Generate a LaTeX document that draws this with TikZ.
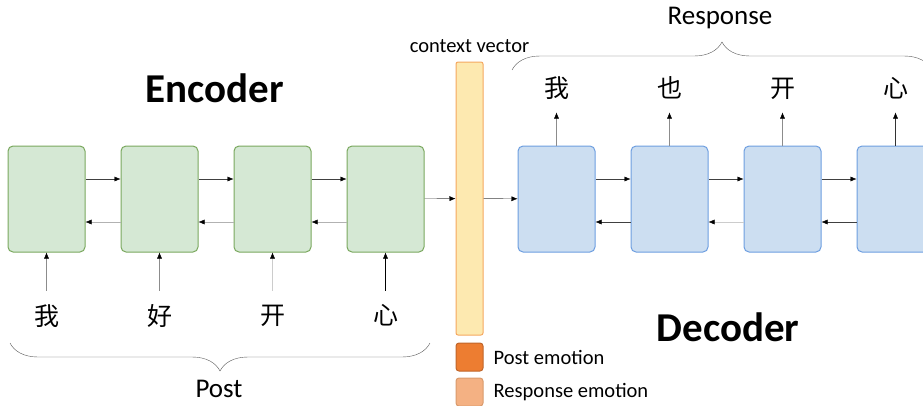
\documentclass[tikz,border=0pt]{standalone}
\usepackage{fontspec}
\setmainfont{Carlito}
\newfontfamily\cjk{Noto Sans CJK SC}
\usepackage{tikz}
\usetikzlibrary{arrows.meta,positioning,decorations.pathreplacing}

\definecolor{encfill}{HTML}{D5E8D4}
\definecolor{encline}{HTML}{7AA85E}
\definecolor{decfill}{HTML}{CCDEF1}
\definecolor{decline}{HTML}{6D9EE0}
\definecolor{ctxfill}{HTML}{FDE9B0}
\definecolor{ctxline}{HTML}{F5A860}
\definecolor{postemo}{HTML}{ED7D31}
\definecolor{postline}{HTML}{C0652A}
\definecolor{respemo}{HTML}{F4B183}
\definecolor{respline}{HTML}{D99A6C}

\begin{document}
\begin{tikzpicture}[x=1pt, y=-1pt, node distance=35pt, >={Latex[length=6pt,width=5pt,color=black]},
  enc/.style={draw=encline, fill=encfill, line width=1pt, rounded corners=5pt, minimum width=77pt, minimum height=106pt},
  dec/.style={draw=decline, fill=decfill, line width=1pt, rounded corners=5pt, minimum width=77pt, minimum height=106pt},
  emo/.style={line width=1pt, rounded corners=3pt, minimum width=27pt, minimum height=28pt},
  word/.style={font=\cjk\fontsize{25}{25}\selectfont, inner sep=0pt},
  title/.style={font=\fontsize{41}{42}\selectfont\bfseries, inner sep=0pt},
  txt/.style={font=\fontsize{20.5}{21}\selectfont, inner sep=0pt},
  big/.style={font=\fontsize{27}{28}\selectfont, inner sep=0pt, text depth=0pt},
  brace/.style={draw=black!65, thin, decorate, decoration={brace, amplitude=28pt}}]
\useasboundingbox (0,0) rectangle (923,405);
% encoder cells and post words
\node[enc] (e1) at (46.5,199) {};
\node[enc, right=of e1] (e2) {};
\node[enc, right=of e2] (e3) {};
\node[enc, right=of e3] (e4) {};
\node[word, below=52pt of e1] (p1) {我};
\node[word, below=52pt of e2] (p2) {好};
\node[word, below=52pt of e3] (p3) {开};
\node[word, below=52pt of e4] (p4) {心};
% context vector and emotion legend
\node[draw=ctxline, fill=ctxfill, line width=1pt, rounded corners=2pt, minimum width=27pt, minimum height=273pt] (cv) at (469.5,198.5) {};
\node[txt, above=9pt of cv] (cvl) {context vector};
\node[emo, draw=postline, fill=postemo, below=7pt of cv] (pe) {};
\node[emo, draw=respline, fill=respemo, below=6pt of pe] (re) {};
\node[txt, right=10pt of pe] (pel) {Post emotion};
\node[txt, right=10pt of re] (rel) {Response emotion};
% decoder cells and response words
\node[dec] (d1) at (556.5,199) {};
\node[dec, right=of d1] (d2) {};
\node[dec, right=of d2] (d3) {};
\node[dec, right=of d3] (d4) {};
\node[word, above=46pt of d1] (r1) {我};
\node[word, above=46pt of d2] (r2) {也};
\node[word, above=46pt of d3] (r3) {开};
\node[word, above=46pt of d4] (r4) {心};
% titles and brace labels
\node[title] (enc) at (215,88) {Encoder};
\node[title] (dect) at (728,327) {Decoder};
\node[big] (post) at (219,389) {Post};
\node[big] (resp) at (720,16) {Response};
\draw[brace] (430,343) -- (10,343);
\draw[brace] (512,70) -- (932,70);
% recurrent connections
\draw[->, black!75] ([yshift=20pt]e1.east) -- ([yshift=20pt]e2.west);
\draw[->, black!75] ([yshift=20pt]e2.east) -- ([yshift=20pt]e3.west);
\draw[->, black!75] ([yshift=20pt]e3.east) -- ([yshift=20pt]e4.west);
\draw[->, black!30] ([yshift=-23pt]e2.west) -- ([yshift=-23pt]e1.east);
\draw[->, black!30] ([yshift=-23pt]e3.west) -- ([yshift=-23pt]e2.east);
\draw[->, black!30] ([yshift=-23pt]e4.west) -- ([yshift=-23pt]e3.east);
\draw[->, black!75] ([yshift=20pt]d1.east) -- ([yshift=20pt]d2.west);
\draw[->, black!75] ([yshift=20pt]d2.east) -- ([yshift=20pt]d3.west);
\draw[->, black!75] ([yshift=20pt]d3.east) -- ([yshift=20pt]d4.west);
\draw[->, black!75] ([yshift=-23pt]d2.west) -- ([yshift=-23pt]d1.east);
\draw[->, black!20] ([yshift=-23pt]d3.west) -- ([yshift=-23pt]d2.east);
\draw[->, black!75] ([yshift=-23pt]d4.west) -- ([yshift=-23pt]d3.east);
\draw[->, black!75] (e4) -- (cv);
\draw[->, black!75] (cv) -- (d1);
% inputs and outputs
\draw[->, black!45, shorten <=14pt] (p1) -- (e1);
\draw[->, black!45, shorten <=14pt] (p2) -- (e2);
\draw[->, black!20, shorten <=14pt] (p3) -- (e3);
\draw[->, black, shorten <=14pt] (p4) -- (e4);
\draw[->, black!45, shorten >=13pt] (d1) -- (r1);
\draw[->, black!45, shorten >=13pt] (d2) -- (r2);
\draw[->, black!45, shorten >=13pt] (d3) -- (r3);
\draw[->, black!80, shorten >=13pt] (d4) -- (r4);
\end{tikzpicture}
\end{document}
